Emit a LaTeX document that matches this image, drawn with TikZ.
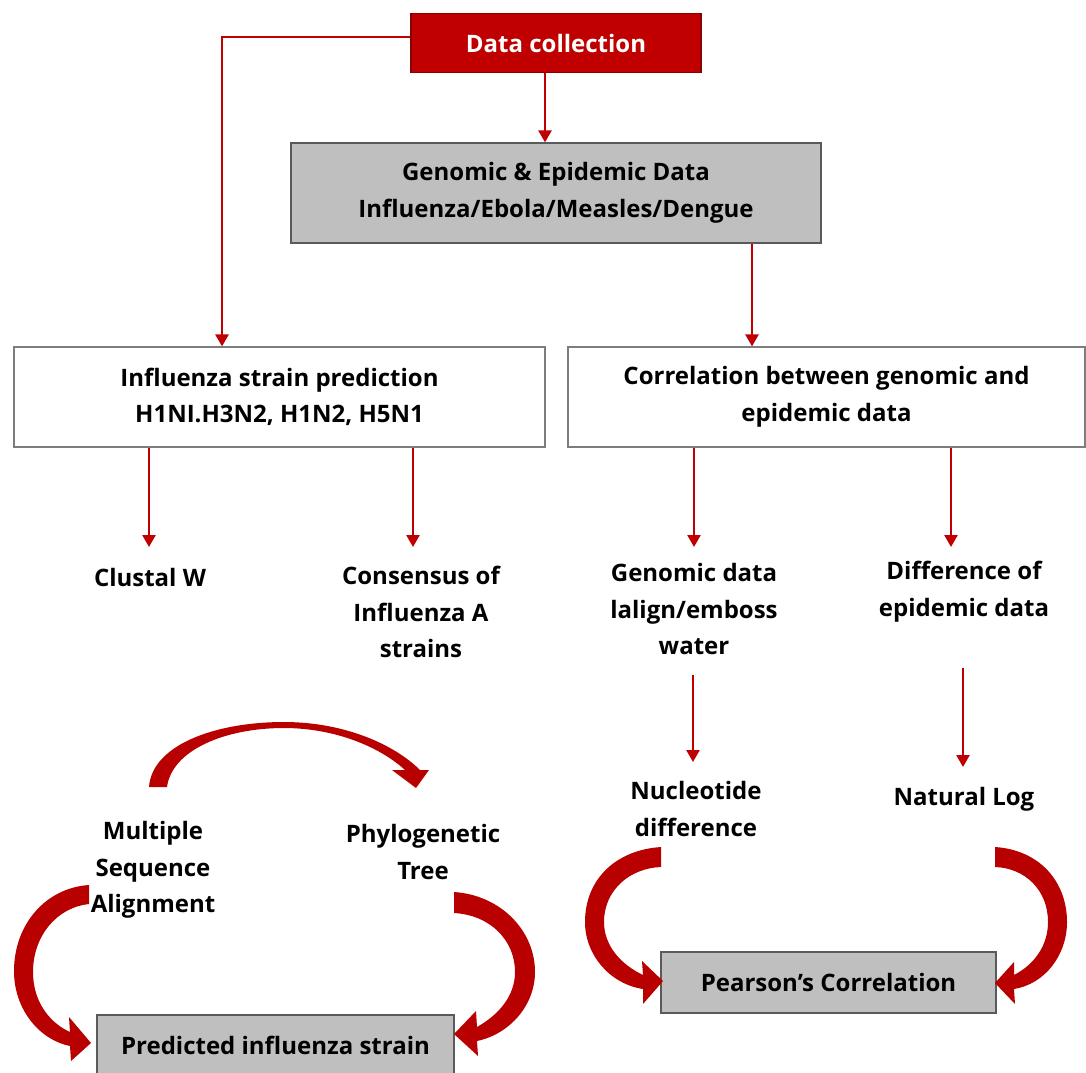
\documentclass[tikz,border=0pt]{standalone}
\usepackage{fontspec}
\setmainfont{Open Sans}
\usetikzlibrary{arrows.meta,calc}
\definecolor{dred}{RGB}{192,0,0}
\definecolor{rib}{RGB}{185,0,0}
\definecolor{gfill}{RGB}{191,191,191}
\definecolor{gline}{RGB}{90,90,90}
\definecolor{wline}{RGB}{125,125,125}
\begin{document}
\begin{tikzpicture}[x=1pt,y=-1pt,
  txt/.style={font=\fontsize{24}{36.5}\selectfont\bfseries, align=center, inner sep=0pt},
  whitebox/.style={txt, draw=wline, line width=1.2pt, fill=white},
  graybox/.style={txt, draw=gline, line width=1.2pt, fill=gfill},
  redbox/.style={txt, draw={rgb,255:red,140;green,0;blue,0}, line width=1.2pt, fill=dred, text=white},
  lbl/.style={txt},
  arr/.style={draw=dred, line width=2.5pt, -{Triangle[width=13pt,length=12pt]}},
  ribbon/.style={fill=rib, draw=none}]
\fill[white] (0,0) rectangle (1086,1072);
\useasboundingbox (0,0) rectangle (1086,1072);

% boxes
\node[redbox, minimum width=290pt, minimum height=59pt] (dc) at (556,43) {Data collection};
\node[graybox, minimum width=530pt, minimum height=100pt] (gen) at (556,193) {Genomic \& Epidemic Data\\Influenza/Ebola/Measles/Dengue};
\node[whitebox, minimum width=531pt, minimum height=100pt] (inf) at (279.5,397) {Influenza strain prediction\\H1NI.H3N2, H1N2, H5N1};
\node[whitebox, minimum width=517pt, minimum height=100pt] (cor) at (826.5,397) {Correlation between genomic and\\epidemic data};
\node[graybox, minimum width=357pt, minimum height=61pt] (pred) at (275.5,1045.5) {Predicted influenza strain};
\node[graybox, minimum width=335pt, minimum height=61pt] (pear) at (828.5,982.5) {Pearson’s Correlation};

% labels
\node[lbl] (cw) at (150,577) {Clustal W};
\node[lbl] (cons) at (421,612) {Consensus of\\Influenza A\\strains};
\node[lbl] (gd) at (694,609) {Genomic data\\lalign/emboss\\water};
\node[lbl] (diff) at (964,591.5) {Difference of\\epidemic data};
\node[lbl] (nuc) at (696,809) {Nucleotide\\difference};
\node[lbl] (nl) at (964,799) {Natural Log};
\node[lbl] (msa) at (153,870) {Multiple\\Sequence\\Alignment};
\node[lbl] (phy) at (423,852) {Phylogenetic\\Tree};

% arrow end points
\coordinate (a1) at (149,547);
\coordinate (a2) at (413,547);
\coordinate (a3) at (694,547);
\coordinate (a4) at (951,547);
\coordinate (c1s) at (693,675);
\coordinate (c1e) at (693,762);
\coordinate (c2s) at (963,668);
\coordinate (c2e) at (963,767);

% straight connectors
\draw[arr] ([yshift=6pt]dc.west) -| ([xshift=-57.5pt]inf.north);
\draw[arr] ([xshift=-11pt]dc.south) -- ([xshift=-11pt]gen.north);
\draw[arr] ([xshift=196pt]gen.south) -- ([xshift=196pt]gen.south |- cor.north);
\draw[arr] (inf.south -| a1) -- (a1);
\draw[arr] (inf.south -| a2) -- (a2);
\draw[arr] (cor.south -| a3) -- (a3);
\draw[arr] (cor.south -| a4) -- (a4);
\draw[arr] (c1s) -- (c1e);
\draw[arr] (c2s) -- (c2e);

% ribbon arrows
% top arc
\fill[ribbon] (149,787) .. controls (152,745) and (215,722) .. (284,722)
  .. controls (345,722) and (395,745) .. (420,770)
  -- (429,770) -- (416,788) -- (392,770) -- (405,770)
  .. controls (380,747) and (335,728) .. (284,728)
  .. controls (225,728) and (172,750) .. (167,787) -- cycle;
% left of predicted
\fill[ribbon] (89,885) .. controls (45,888) and (14,925) .. (14,971)
  .. controls (14,1010) and (40,1040) .. (70,1046)
  -- (71,1061) -- (91,1043) -- (69,1017) -- (70,1032)
  .. controls (48,1022) and (33,1000) .. (33,972)
  .. controls (33,935) and (58,907) .. (89,904) -- cycle;
% right of predicted
\fill[ribbon] (454,892) .. controls (500,895) and (535,930) .. (535,972)
  .. controls (535,1005) and (510,1034) .. (477,1041)
  -- (478,1056) -- (454,1034) -- (476,1011) -- (477,1027)
  .. controls (500,1014) and (515,995) .. (515,972)
  .. controls (515,940) and (490,915) .. (454,913) -- cycle;
% left of pearson
\fill[ribbon] (661,847) .. controls (615,850) and (585,880) .. (585,922)
  .. controls (585,955) and (610,984) .. (643,989)
  -- (643,1004) -- (663,981) -- (642,961) -- (643,975)
  .. controls (620,964) and (604,945) .. (604,922)
  .. controls (604,890) and (630,868) .. (661,867) -- cycle;
% right of pearson
\fill[ribbon] (995,847) .. controls (1040,850) and (1067,882) .. (1067,922)
  .. controls (1067,955) and (1045,984) .. (1014,989)
  -- (1015,1004) -- (995,983) -- (1014,962) -- (1014,975)
  .. controls (1035,964) and (1048,945) .. (1048,922)
  .. controls (1048,890) and (1025,868) .. (995,867) -- cycle;
\end{tikzpicture}
\end{document}
